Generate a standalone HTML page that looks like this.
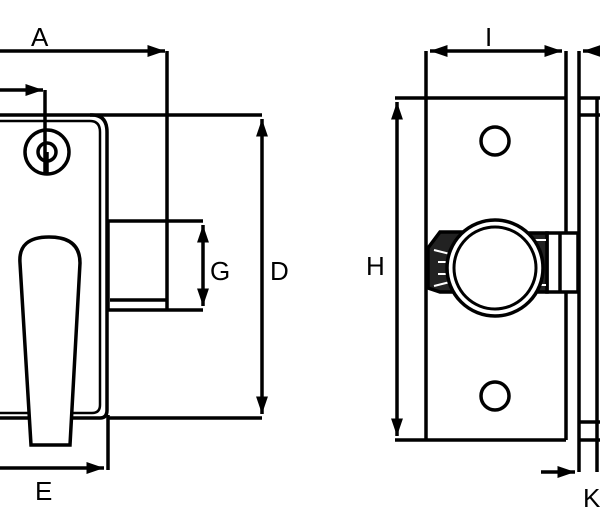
<!DOCTYPE html>
<html><head><style>body{margin:0;background:#fff}svg{display:block}text{font-family:"Liberation Sans",sans-serif;font-size:26px;fill:#000}</style></head>
<body>
<svg width="600" height="532" viewBox="0 0 600 532" xmlns="http://www.w3.org/2000/svg">
<defs>
<marker id="a" markerWidth="5" markerHeight="3.4" refX="5" refY="1.7" orient="auto-start-reverse" markerUnits="strokeWidth"><path d="M0,0L5,1.7L0,3.4z" fill="#000"/></marker>
</defs>
<g stroke="#000" stroke-width="3.5" fill="none">
<line x1="0" y1="51" x2="165" y2="51" marker-end="url(#a)"/>
<line x1="167" y1="51" x2="167" y2="309"/>
<line x1="0" y1="90" x2="43" y2="90" marker-end="url(#a)"/>
<line x1="45" y1="90" x2="45" y2="175"/>
<path d="M0,115 H92 Q107,115 107,132 V410 Q107,418 100,418 H0"/>
<path d="M0,121 H90 Q100,121 100,132 V405 Q100,413 92,413 H0" stroke-width="2.5"/>
<line x1="90" y1="115" x2="262" y2="115"/>
<line x1="108" y1="418" x2="262" y2="418"/>
<circle cx="47" cy="152" r="22"/>
<circle cx="47" cy="152" r="9"/>
<line x1="47" y1="152" x2="47" y2="174"/>
<line x1="108" y1="221" x2="203" y2="221"/>
<line x1="108" y1="310" x2="203" y2="310"/>
<line x1="110" y1="300" x2="167" y2="300"/>
<line x1="108" y1="221" x2="108" y2="310"/>
<line x1="203" y1="225" x2="203" y2="306" marker-start="url(#a)" marker-end="url(#a)"/>
<line x1="262" y1="119" x2="262" y2="414" marker-start="url(#a)" marker-end="url(#a)"/>
<path d="M20,263 Q18,237 49,237 Q80,237 80,263 L70,445 H31 Z" fill="#fff"/>
<line x1="0" y1="468" x2="104" y2="468" marker-end="url(#a)"/>
<line x1="108" y1="415" x2="108" y2="470"/>
<line x1="430" y1="51" x2="562" y2="51" marker-start="url(#a)" marker-end="url(#a)"/>
<line x1="426" y1="51" x2="426" y2="440"/>
<line x1="566" y1="51" x2="566" y2="440"/>
<line x1="395" y1="98" x2="566" y2="98"/>
<line x1="395" y1="440" x2="566" y2="440"/>
<line x1="397" y1="102" x2="397" y2="436" marker-start="url(#a)" marker-end="url(#a)"/>
<circle cx="495" cy="141" r="14"/>
<circle cx="495" cy="396" r="14"/>
<path d="M428,248 L440,232 H470 V292 H440 L428,288 Z" fill="#222"/>
<path d="M434,250 L458,256 M434,286 L458,280 M438,262 H458 M438,274 H458" stroke="#fff" stroke-width="2"/>
<rect x="547" y="233" width="31" height="59" fill="#fff"/>
<line x1="560" y1="233" x2="560" y2="292"/>
<path d="M520,233 H547 V292 H520" fill="#222"/>
<line x1="530" y1="240" x2="546" y2="240" stroke="#fff" stroke-width="2"/>
<line x1="530" y1="285" x2="546" y2="285" stroke="#fff" stroke-width="2"/>
<circle cx="495" cy="268" r="48" fill="#fff"/>
<circle cx="495" cy="268" r="41" stroke-width="3"/>
<line x1="579" y1="51" x2="579" y2="472"/>
<line x1="597" y1="98" x2="597" y2="472"/>
<line x1="583" y1="51" x2="600" y2="51" marker-start="url(#a)"/>
<line x1="579" y1="98" x2="600" y2="98"/>
<line x1="579" y1="115" x2="600" y2="115"/>
<line x1="579" y1="422" x2="600" y2="422"/>
<line x1="579" y1="440" x2="600" y2="440"/>
<line x1="541" y1="472" x2="575" y2="472" marker-end="url(#a)"/>
</g>
<text x="31" y="46">A</text>
<text x="210" y="280">G</text>
<text x="270" y="280">D</text>
<text x="35" y="500">E</text>
<text x="485" y="46">I</text>
<text x="366" y="275">H</text>
<text x="583" y="507">K</text>
</svg>
</body></html>
